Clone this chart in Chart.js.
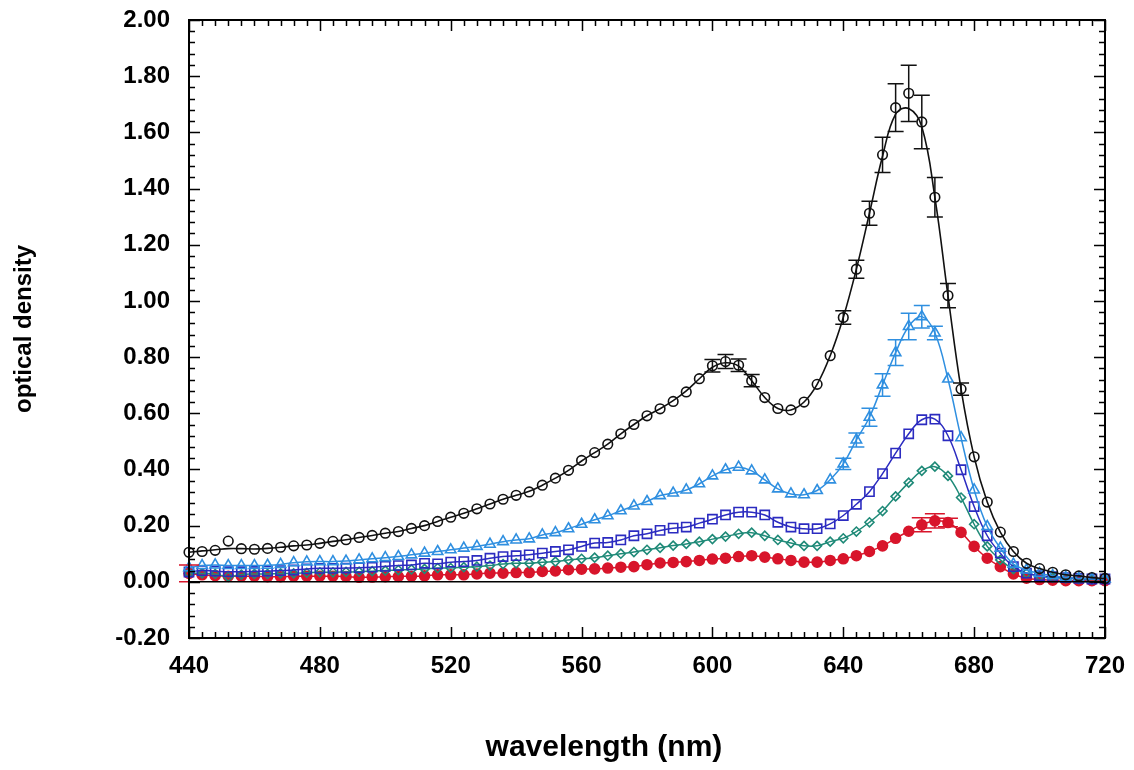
<!DOCTYPE html>
<html>
<head>
<meta charset="utf-8">
<script src="https://cdn.jsdelivr.net/npm/chart.js@4/dist/chart.umd.min.js"></script>
<style>
  html, body { margin: 0; padding: 0; background: #ffffff; }
  #wrap { width: 1134px; height: 770px; position: relative; }
</style>
</head>
<body>
<div id="wrap"><canvas id="c" width="1134" height="770"></canvas></div>
<script>
// ---- data ----
const wavelength = [440,444,448,452,456,460,464,468,472,476,480,484,488,492,496,500,504,508,512,516,520,524,528,532,536,540,544,548,552,556,560,564,568,572,576,580,584,588,592,596,600,604,608,612,616,620,624,628,632,636,640,644,648,652,656,660,664,668,672,676,680,684,688,692,696,700,704,708,712,716,720];

const blackOD = [0.105,0.108,0.112,0.145,0.118,0.116,0.119,0.123,0.128,0.131,0.137,0.144,0.150,0.158,0.165,0.173,0.179,0.190,0.200,0.215,0.230,0.244,0.260,0.277,0.294,0.308,0.320,0.344,0.369,0.397,0.432,0.460,0.490,0.527,0.560,0.591,0.616,0.642,0.676,0.723,0.769,0.784,0.771,0.716,0.656,0.617,0.612,0.640,0.703,0.805,0.941,1.113,1.312,1.520,1.688,1.739,1.637,1.369,1.019,0.686,0.445,0.284,0.177,0.108,0.066,0.047,0.034,0.025,0.021,0.015,0.012];
// smooth fitted curve drawn through the black markers
const blackFit = [0.105,0.110,0.114,0.118,0.118,0.117,0.119,0.123,0.128,0.131,0.137,0.144,0.150,0.158,0.165,0.173,0.179,0.190,0.200,0.215,0.230,0.244,0.260,0.277,0.294,0.308,0.322,0.344,0.369,0.397,0.430,0.460,0.490,0.527,0.560,0.591,0.616,0.645,0.680,0.723,0.764,0.780,0.768,0.716,0.656,0.617,0.612,0.640,0.703,0.805,0.941,1.113,1.312,1.515,1.665,1.685,1.620,1.369,1.019,0.686,0.445,0.284,0.177,0.108,0.066,0.047,0.034,0.025,0.021,0.015,0.012];
const blackErr = {600:0.022,604:0.025,608:0.022,612:0.022,640:0.024,644:0.032,648:0.043,652:0.063,656:0.085,660:0.100,664:0.095,668:0.070,672:0.043,676:0.022};

const lightBlueOD = [0.050,0.058,0.060,0.058,0.058,0.058,0.059,0.062,0.068,0.071,0.072,0.072,0.074,0.078,0.082,0.086,0.090,0.096,0.102,0.108,0.114,0.120,0.126,0.134,0.143,0.149,0.153,0.167,0.175,0.189,0.205,0.221,0.235,0.253,0.270,0.286,0.307,0.316,0.327,0.349,0.377,0.399,0.408,0.395,0.363,0.331,0.313,0.310,0.325,0.363,0.420,0.505,0.586,0.701,0.816,0.909,0.944,0.886,0.722,0.513,0.327,0.197,0.120,0.063,0.042,0.030,0.022,0.016,0.012,0.010,0.010];
const lightBlueErr = {640:0.020,644:0.025,648:0.032,652:0.040,656:0.046,660:0.047,664:0.040,668:0.024};

const darkBlueOD = [0.035,0.040,0.038,0.036,0.036,0.037,0.038,0.040,0.042,0.046,0.048,0.048,0.049,0.050,0.052,0.055,0.058,0.060,0.066,0.064,0.070,0.072,0.076,0.084,0.090,0.093,0.096,0.102,0.108,0.114,0.126,0.138,0.140,0.149,0.164,0.171,0.183,0.191,0.195,0.209,0.223,0.238,0.248,0.248,0.238,0.212,0.195,0.189,0.189,0.206,0.236,0.276,0.321,0.385,0.458,0.527,0.577,0.579,0.520,0.399,0.268,0.164,0.102,0.054,0.031,0.022,0.018,0.015,0.012,0.010,0.010];

const tealOD = [0.030,0.030,0.028,0.018,0.026,0.028,0.028,0.030,0.030,0.032,0.034,0.034,0.035,0.036,0.038,0.040,0.042,0.044,0.046,0.049,0.049,0.052,0.054,0.058,0.063,0.066,0.066,0.070,0.072,0.078,0.082,0.086,0.093,0.100,0.106,0.114,0.121,0.129,0.135,0.143,0.152,0.161,0.171,0.175,0.164,0.149,0.138,0.128,0.128,0.143,0.155,0.179,0.212,0.252,0.304,0.353,0.395,0.410,0.377,0.300,0.205,0.126,0.078,0.045,0.030,0.020,0.015,0.012,0.010,0.008,0.008];

const redOD = [0.030,0.025,0.022,0.020,0.020,0.020,0.018,0.018,0.020,0.020,0.020,0.020,0.019,0.016,0.017,0.018,0.019,0.020,0.021,0.025,0.025,0.025,0.028,0.031,0.031,0.033,0.033,0.037,0.039,0.043,0.045,0.046,0.049,0.052,0.054,0.061,0.067,0.069,0.072,0.076,0.081,0.084,0.090,0.093,0.088,0.082,0.076,0.070,0.070,0.076,0.082,0.093,0.108,0.128,0.155,0.180,0.203,0.217,0.211,0.176,0.126,0.084,0.054,0.028,0.013,0.008,0.006,0.004,0.004,0.004,0.004];
const redErr = {440:0.030,664:0.025,668:0.025,672:0.015};

const xTicks = [440,480,520,560,600,640,680,720];
const yTicks = [-0.20,0.00,0.20,0.40,0.60,0.80,1.00,1.20,1.40,1.60,1.80,2.00];
const xMinorStep = 4;
const yMinorStep = 0.04;
const xTitle = 'wavelength (nm)';
const yTitle = 'optical density';

// ---- helpers ----
const toPoints = (ys) => wavelength.map((w, i) => ({x: w, y: ys[i]}));

function series(label, ys, color, style, radius, filled, errs, cap, showLine) {
  return {
    label, data: toPoints(ys), errors: errs || null, capWidth: cap || 15,
    borderColor: color, backgroundColor: filled ? color : 'rgba(255,255,255,0)',
    pointBorderColor: color, pointBackgroundColor: filled ? color : 'rgba(255,255,255,0)',
    pointStyle: style, pointRadius: radius, pointBorderWidth: 1.6,
    borderWidth: 1.5, showLine: showLine !== false, tension: 0.4, clip: false
  };
}

const axisDeco = {
  id: 'axisDeco',
  afterDatasetsDraw(chart) {
    const {ctx, chartArea: a, scales: {x, y}} = chart;
    ctx.save();
    // error bars
    chart.data.datasets.forEach((ds) => {
      if (!ds.errors) return;
      ctx.strokeStyle = ds.borderColor;
      ctx.lineWidth = 1.5;
      Object.keys(ds.errors).forEach((k) => {
        const w = Number(k);
        const idx = wavelength.indexOf(w);
        const v = ds.data[idx].y, e = ds.errors[k];
        const px = x.getPixelForValue(w);
        const yt = y.getPixelForValue(v + e), yb = y.getPixelForValue(v - e);
        const h = ds.capWidth / 2;
        ctx.beginPath();
        ctx.moveTo(px, yt); ctx.lineTo(px, yb);
        ctx.moveTo(px - h, yt); ctx.lineTo(px + h, yt);
        ctx.moveTo(px - h, yb); ctx.lineTo(px + h, yb);
        ctx.stroke();
      });
    });
    ctx.strokeStyle = '#000';
    // zero line
    ctx.lineWidth = 1.5;
    const y0 = y.getPixelForValue(0);
    ctx.beginPath(); ctx.moveTo(a.left, y0); ctx.lineTo(a.right, y0); ctx.stroke();
    // ticks
    ctx.lineWidth = 1.5;
    ctx.beginPath();
    const xMin = xTicks[0], xMax = xTicks[xTicks.length - 1];
    for (let i = 0; xMin + i * xMinorStep <= xMax + 1e-9; i++) {
      const v = xMin + i * xMinorStep;
      const px = Math.round(x.getPixelForValue(v)) + 0.5;
      const L = xTicks.includes(v) ? 11 : 6;
      ctx.moveTo(px, a.bottom); ctx.lineTo(px, a.bottom - L);
      ctx.moveTo(px, a.top); ctx.lineTo(px, a.top + L);
    }
    const yMin = yTicks[0], yMax = yTicks[yTicks.length - 1];
    const n = Math.round((yMax - yMin) / yMinorStep);
    for (let i = 0; i <= n; i++) {
      const v = yMin + i * yMinorStep;
      const py = Math.round(y.getPixelForValue(v)) + 0.5;
      const L = (i % 5 === 0) ? 11 : 6;
      ctx.moveTo(a.left, py); ctx.lineTo(a.left + L, py);
      ctx.moveTo(a.right, py); ctx.lineTo(a.right - L, py);
    }
    ctx.stroke();
    // frame
    ctx.lineWidth = 2;
    ctx.strokeRect(a.left, a.top, a.right - a.left, a.bottom - a.top);
    // x-axis title (set left of centre, as in the original figure)
    ctx.fillStyle = '#000';
    ctx.font = 'bold 30px "Liberation Sans", Arial, sans-serif';
    ctx.textAlign = 'center';
    ctx.textBaseline = 'middle';
    ctx.fillText(xTitle, a.left + (a.right - a.left) * 0.453, 748);
    ctx.restore();
  }
};

Chart.defaults.color = '#000';
Chart.defaults.font.family = '"Liberation Sans", Arial, Helvetica, sans-serif';

const blackLine = {
  label: 'black fit', data: toPoints(blackFit), borderColor: '#111111', borderWidth: 1.6,
  pointRadius: 0, showLine: true, tension: 0.4, clip: false
};

new Chart(document.getElementById('c'), {
  type: 'scatter',
  data: {
    datasets: [
      series('black', blackOD, '#111111', 'circle', 4.8, false, blackErr, 16, false),
      blackLine,
      series('light blue', lightBlueOD, '#2f8fe0', 'triangle', 6, false, lightBlueErr, 16),
      series('dark blue', darkBlueOD, '#2b2bc0', 'rect', 6.5, false, null),
      series('teal', tealOD, '#1f8a78', 'rectRot', 4.5, false, null),
      series('red', redOD, '#d8152b', 'circle', 5, true, redErr, 20)
    ]
  },
  options: {
    responsive: false,
    animation: false,
    events: [],
    layout: { padding: { top: 20, right: 29, left: 0, bottom: 0 } },
    plugins: { legend: { display: false }, tooltip: { enabled: false } },
    scales: {
      x: {
        type: 'linear', min: xTicks[0], max: xTicks[xTicks.length - 1],
        afterBuildTicks: (s) => { s.ticks = xTicks.map(v => ({value: v})); },
        afterFit: (s) => { s.height = 132; s.paddingLeft = 0; s.paddingRight = 0; },
        grid: { display: false, drawTicks: false },
        border: { display: false },
        ticks: { padding: 14, font: { size: 24, weight: 'bold' }, maxRotation: 0, callback: (v) => String(v) },
        title: { display: false }
      },
      y: {
        type: 'linear', min: yTicks[0], max: yTicks[yTicks.length - 1],
        afterBuildTicks: (s) => { s.ticks = yTicks.map(v => ({value: v})); },
        afterFit: (s) => { s.width = 189; s.paddingTop = 0; s.paddingBottom = 0; },
        grid: { display: false, drawTicks: false },
        border: { display: false },
        ticks: { padding: 19, font: { size: 24, weight: 'bold' }, callback: (v) => Number(v).toFixed(2) },
        title: { display: true, text: yTitle, font: { size: 24, weight: 'bold' }, padding: { top: 10, bottom: 0 } }
      }
    }
  },
  plugins: [axisDeco]
});
</script>
</body>
</html>
